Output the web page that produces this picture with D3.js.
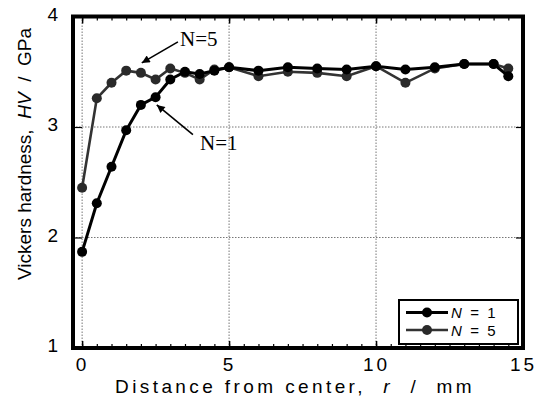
<!DOCTYPE html>
<html>
<head>
<meta charset="utf-8">
<script src="https://cdn.jsdelivr.net/npm/d3@7"></script>
<style>
  body { margin: 0; background: #fff; }
  svg { display: block; }
</style>
</head>
<body>
<div id="chart"></div>
<script>
// distance from center, r / mm
var rN1 = [0, 0.5, 1, 1.5, 2, 2.5, 3, 3.5, 4, 4.5, 5, 6, 7, 8, 9, 10, 11, 12, 13, 14, 14.5];
var hvN1 = [1.87, 2.31, 2.64, 2.97, 3.20, 3.27, 3.43, 3.50, 3.48, 3.51, 3.54, 3.51, 3.54, 3.53, 3.52, 3.55, 3.52, 3.54, 3.57, 3.57, 3.46];
var rN5 = [0, 0.5, 1, 1.5, 2, 2.5, 3, 3.5, 4, 4.5, 5, 6, 7, 8, 9, 10, 11, 12, 13, 14, 14.5];
var hvN5 = [2.45, 3.26, 3.40, 3.51, 3.49, 3.43, 3.53, 3.49, 3.43, 3.52, 3.54, 3.46, 3.50, 3.49, 3.46, 3.55, 3.40, 3.53, 3.57, 3.57, 3.53];

var xTicks = [0, 5, 10, 15];
var yTicks = [1, 2, 3, 4];
var xGrid = [0, 5, 10];
var yGrid = [2, 3];
var seriesNames = ["1", "5"];

var width = 539, height = 401;
var margin = {top: 16.5, right: 16, bottom: 53, left: 73};
var plotW = width - margin.left - margin.right;
var plotH = height - margin.top - margin.bottom;

var svg = d3.select("#chart")
  .append("svg")
  .attr("width", width)
  .attr("height", height);

var g = svg.append("g")
  .attr("transform", "translate(" + margin.left + "," + margin.top + ")");

var x = d3.scaleLinear().domain([-0.31, 15]).range([0, plotW]);
var y = d3.scaleLinear().domain([1, 4]).range([plotH, 0]);

// grid lines
g.selectAll(".xgrid").data(xGrid).enter().append("line")
  .attr("x1", function(d) { return x(d); })
  .attr("x2", function(d) { return x(d); })
  .attr("y1", 0).attr("y2", plotH)
  .attr("stroke", "#777").attr("stroke-width", 1)
  .attr("stroke-dasharray", "1.5,1.5");

g.selectAll(".ygrid").data(yGrid).enter().append("line")
  .attr("x1", 0).attr("x2", plotW)
  .attr("y1", function(d) { return y(d); })
  .attr("y2", function(d) { return y(d); })
  .attr("stroke", "#777").attr("stroke-width", 1)
  .attr("stroke-dasharray", "1.5,1.5");

// minor ticks every 0.5 along x, top and bottom
var minor = d3.range(0, 15.01, 0.5);
g.append("g")
  .attr("transform", "translate(0," + plotH + ")")
  .call(d3.axisBottom(x).tickValues(minor).tickSize(-4).tickFormat(""))
  .call(function(a) { a.select(".domain").remove(); a.selectAll("line").attr("stroke-width", 1.2); });
g.append("g")
  .call(d3.axisTop(x).tickValues(minor).tickSize(-4).tickFormat(""))
  .call(function(a) { a.select(".domain").remove(); a.selectAll("line").attr("stroke-width", 1.2); });
g.append("g")
  .attr("transform", "translate(0," + plotH + ")")
  .call(d3.axisBottom(x).tickValues(xGrid).tickSize(-7).tickFormat(""))
  .call(function(a) { a.select(".domain").remove(); a.selectAll("line").attr("stroke-width", 1.5); });
g.append("g")
  .call(d3.axisTop(x).tickValues(xGrid).tickSize(-7).tickFormat(""))
  .call(function(a) { a.select(".domain").remove(); a.selectAll("line").attr("stroke-width", 1.5); });

// y ticks left and right
g.append("g")
  .call(d3.axisLeft(y).tickValues(yGrid).tickSize(-9).tickFormat(""))
  .call(function(a) { a.select(".domain").remove(); a.selectAll("line").attr("stroke-width", 1.2); });
g.append("g")
  .attr("transform", "translate(" + plotW + ",0)")
  .call(d3.axisRight(y).tickValues(yGrid).tickSize(-7).tickFormat(""))
  .call(function(a) { a.select(".domain").remove(); a.selectAll("line").attr("stroke-width", 1.2); });

// tick labels
var xAxis = g.append("g")
  .attr("transform", "translate(0," + plotH + ")")
  .call(d3.axisBottom(x).tickValues(xTicks).tickSize(0).tickPadding(10).tickFormat(d3.format("d")));
xAxis.select(".domain").remove();
xAxis.selectAll("text")
  .attr("font-family", "'Liberation Sans', Arial, sans-serif")
  .attr("font-size", 19)
  .attr("fill", "#000")
  .style("letter-spacing", "3px");

var yAxis = g.append("g")
  .call(d3.axisLeft(y).tickValues(yTicks).tickSize(0).tickPadding(15).tickFormat(d3.format("d")));
yAxis.select(".domain").remove();
yAxis.selectAll("text")
  .attr("font-family", "'Liberation Sans', Arial, sans-serif")
  .attr("font-size", 19)
  .attr("dy", "0.2em")
  .attr("fill", "#000");

// series
var colors = ["#000", "#333"];
var markColors = ["#000", "#2a2a2a"];
var series = [
  rN1.map(function(r, i) { return {r: r, hv: hvN1[i]}; }),
  rN5.map(function(r, i) { return {r: r, hv: hvN5[i]}; })
];

var line = d3.line()
  .x(function(d) { return x(d.r); })
  .y(function(d) { return y(d.hv); });

[1, 0].forEach(function(k) {
  g.append("path")
    .datum(series[k])
    .attr("fill", "none")
    .attr("stroke", colors[k])
    .attr("stroke-width", k === 0 ? 3 : 2.6)
    .attr("d", line);
  g.selectAll(".pt" + k).data(series[k]).enter().append("circle")
    .attr("cx", function(d) { return x(d.r); })
    .attr("cy", function(d) { return y(d.hv); })
    .attr("r", 5)
    .attr("fill", markColors[k]);
});

// frame
g.append("rect")
  .attr("x", 0).attr("y", 0)
  .attr("width", plotW).attr("height", plotH)
  .attr("fill", "none")
  .attr("stroke", "#000")
  .attr("stroke-width", 4);

// annotations with arrows
svg.append("defs").append("marker")
  .attr("id", "arrow")
  .attr("viewBox", "0 0 10 10")
  .attr("refX", 10).attr("refY", 5)
  .attr("markerWidth", 12).attr("markerHeight", 8)
  .attr("markerUnits", "userSpaceOnUse")
  .attr("orient", "auto")
  .append("path")
  .attr("d", "M0,0 L10,5 L0,10 Z")
  .attr("fill", "#000");

var notes = [
  {label: "N=5", tx: 3.33, ty: 3.73, x1: 3.26, y1: 3.77, x2: 2.03, y2: 3.58},
  {label: "N=1", tx: 4.01, ty: 2.79, x1: 3.77, y1: 2.93, x2: 2.54, y2: 3.20}
];
notes.forEach(function(n) {
  g.append("line")
    .attr("x1", x(n.x1)).attr("y1", y(n.y1))
    .attr("x2", x(n.x2)).attr("y2", y(n.y2))
    .attr("stroke", "#000").attr("stroke-width", 1.6)
    .attr("marker-end", "url(#arrow)");
  g.append("text")
    .attr("x", x(n.tx)).attr("y", y(n.ty))
    .attr("font-family", "'Liberation Serif', 'Times New Roman', serif")
    .attr("font-size", 21)
    .attr("fill", "#000")
    .text(n.label);
});

// legend
var legend = g.append("g")
  .attr("transform", "translate(" + (plotW - 124) + "," + (plotH - 48) + ")");
legend.append("rect")
  .attr("width", 119).attr("height", 44)
  .attr("fill", "#fff").attr("stroke", "#000").attr("stroke-width", 2);
seriesNames.forEach(function(s, k) {
  var ly = 12.5 + k * 17.5;
  legend.append("line")
    .attr("x1", 7).attr("x2", 49).attr("y1", ly).attr("y2", ly)
    .attr("stroke", colors[k]).attr("stroke-width", k === 0 ? 3 : 2.6);
  legend.append("circle")
    .attr("cx", 28).attr("cy", ly).attr("r", 5).attr("fill", markColors[k]);
  var t = legend.append("text")
    .attr("x", 52).attr("y", ly + 5.5)
    .attr("font-family", "'Liberation Sans', Arial, sans-serif")
    .attr("font-size", 15)
    .attr("fill", "#000");
  t.append("tspan").attr("font-style", "italic").text("N");
  t.append("tspan").attr("xml:space", "preserve").text("  =  " + s);
});

// axis titles
svg.append("text")
  .attr("x", 295).attr("y", 393)
  .attr("text-anchor", "middle")
  .attr("font-family", "'Liberation Sans', Arial, sans-serif")
  .attr("font-size", 19)
  .style("letter-spacing", "3.4px")
  .style("white-space", "pre")
  .html('Distance from center,  <tspan font-style="italic">r</tspan>  /  mm');

svg.append("text")
  .attr("transform", "translate(31,154) rotate(-90)")
  .attr("text-anchor", "middle")
  .attr("font-family", "'Liberation Sans', Arial, sans-serif")
  .attr("font-size", 19)
  .style("white-space", "pre")
  .html('Vickers hardness,  <tspan font-style="italic">HV</tspan>  /  GPa');
</script>
</body>
</html>
